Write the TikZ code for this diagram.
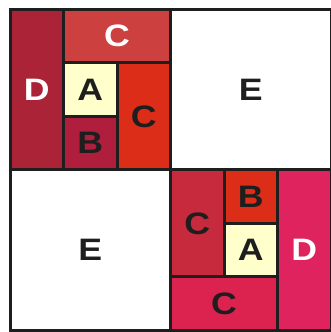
\documentclass[tikz,border=0pt]{standalone}
\usepackage{fontspec}
\setmainfont{Liberation Sans}
\usetikzlibrary{positioning,calc}
\definecolor{cA}{RGB}{255,255,204}
\definecolor{cRed}{RGB}{220,45,25}
\definecolor{cDark}{RGB}{170,35,55}
\definecolor{cBrick}{RGB}{204,64,64}
\definecolor{cWine}{RGB}{175,30,60}
\definecolor{cRose}{RGB}{198,42,60}
\definecolor{cPink}{RGB}{222,35,95}
\definecolor{cCrim}{RGB}{220,35,80}
\definecolor{cInk}{RGB}{30,30,30}
\tikzset{
  cellline/.style={draw=cInk, line width=3pt},
  lbl/.style={inner sep=0pt, font=\fontsize{31pt}{31pt}\selectfont\bfseries}
}
\newcommand{\wide}[1]{\scalebox{1.15}[1]{#1}}

\begin{document}
\begin{tikzpicture}[x=53.5pt, y=53.5pt]
\useasboundingbox (-10pt,-1.5pt) rectangle (320pt,330.5pt);
% coloured cells: x1/y1/x2/y2/fill/text/text colour/name
\foreach \xa/\ya/\xb/\yb/\c/\t/\tc/\n in {
  0/3/1/6/cDark/D/white/dTL, 1/5/3/6/cBrick/C/white/cTop,
  1/4/2/5/cA/A/cInk/aTL, 1/3/2/4/cWine/B/cInk/bTL, 2/3/3/5/cRed/C/cInk/cTL,
  3/3/6/6/white/E/cInk/eTR, 0/0/3/3/white/E/cInk/eBL,
  3/1/4/3/cRose/C/cInk/cBR, 4/2/5/3/cRed/B/cInk/bBR, 4/1/5/2/cA/A/cInk/aBR,
  3/0/5/1/cCrim/C/cInk/cBot, 5/0/6/3/cPink/D/white/dBR} {
  \fill[\c] (\xa,\ya) rectangle (\xb,\yb);
  \draw[cellline] (\xa,\ya) rectangle (\xb,\yb);
  \node[lbl, text=\tc] (\n) at ($(\xa,\ya)!0.5!(\xb,\yb)$) {\wide{\t}};
}
\end{tikzpicture}
\end{document}
